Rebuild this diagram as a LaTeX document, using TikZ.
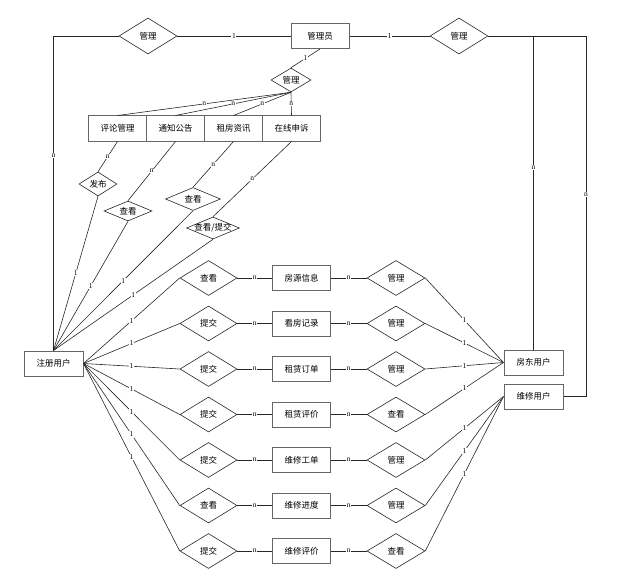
\documentclass[tikz,border=0pt]{standalone}
\usepackage{fontspec}
\newfontfamily\cjk{Noto Sans CJK SC}
\newfontfamily\lblfont{Liberation Serif}
\usetikzlibrary{shapes.geometric}
\begin{document}
\begin{tikzpicture}[x=1pt,y=-1pt,
  ent/.style={draw=black!60, line width=1pt, rectangle, minimum width=58pt, minimum height=25pt, inner sep=0pt, font=\cjk\fontsize{8.5}{10}\selectfont},
  rel/.style={draw=black!85, line width=0.6pt, diamond, inner sep=0pt},
  reltext/.style={font=\cjk\fontsize{8.5}{10}\selectfont, inner sep=0pt},
  conn/.style={draw=black!85, line width=0.6pt},
  lb/.style={fill=white, inner sep=0.6pt, font=\lblfont\fontsize{7.5}{7.5}\selectfont}
]
\useasboundingbox (0,0) rectangle (626,583);

% top
\node[rel, minimum width=58pt, minimum height=36pt, label={[reltext]center:管理}] (m1) at (148,36) {};
\node[ent] (adm) at (320,36) {管理员};
\node[rel, minimum width=58pt, minimum height=36pt, label={[reltext]center:管理}] (m2) at (459,36) {};
\node[rel, minimum width=40pt, minimum height=24pt, label={[reltext]center:管理}] (m3) at (291,80) {};

% second tier entities
\node[ent] (pl) at (117.5,128.5) {评论管理};
\node[ent] (tz) at (175.5,128.5) {通知公告};
\node[ent] (zx) at (233.5,128.5) {租房资讯};
\node[ent] (ss) at (291.5,128.5) {在线申诉};

% small relations
\node[rel, minimum width=38pt, minimum height=24pt, label={[reltext]center:发布}] (fb) at (98,184) {};
\node[rel, minimum width=48pt, minimum height=20pt, label={[reltext]center:查看}] (ck1) at (128,211) {};
\node[rel, minimum width=55pt, minimum height=23pt, label={[reltext]center:查看}] (ck2) at (193,199) {};
\node[rel, minimum width=53pt, minimum height=22pt, label={[reltext]center:查看/提交}] (ckt) at (213,228) {};

% users
\node[ent, minimum width=59pt] (user) at (53.5,363.5) {注册用户};
\node[ent, minimum width=59pt] (fd) at (533.5,362.5) {房东用户};
\node[ent, minimum width=59pt] (wx) at (533.5,396.5) {维修用户};
\coordinate (wc) at (586,396.5);

% top connectors
\draw[conn] (m1.west) -| node[lb,pos=0.69]{n} (user.north);
\draw[conn] (m1.east) -- node[lb]{1} (adm.west);
\draw[conn] (adm.east) -- node[lb]{1} (m2.west);
\draw[conn] (m2.east) -| node[lb,pos=0.71]{n} (fd.north);
\draw[conn] (m2.east) -| node[lb,pos=0.72]{n} (wc) -- (wx.east);
\draw[conn] (adm.south) -- node[lb]{1} (m3.north);
\foreach \e in {pl,tz,zx,ss}{
  \draw[conn] (m3.south) -- node[lb]{n} (\e.north);
}
\draw[conn] (pl.south) -- node[lb]{n} (fb.north);
\draw[conn] (tz.south) -- node[lb]{n} (ck1.north);
\draw[conn] (zx.south) -- node[lb]{n} (ck2.north);
\draw[conn] (ss.south) -- node[lb]{n} (ckt.north);
\foreach \d in {fb,ck1,ck2,ckt}{
  \draw[conn] (\d.south) -- node[lb]{1} (user.north);
}

% rows
\foreach \i/\y/\a/\e/\b/\t in {1/278/查看/房源信息/管理/fd, 2/323.5/提交/看房记录/管理/fd, 3/369/提交/租赁订单/管理/fd, 4/414.5/提交/租赁评价/查看/fd, 5/460/提交/维修工单/管理/wx, 6/505.5/查看/维修进度/管理/wx, 7/551/提交/维修评价/查看/wx}{
  \node[rel, minimum width=57pt, minimum height=35pt, label={[reltext]center:\a}] (la\i) at (208.5,\y) {};
  \node[ent] (en\i) at (301.5,\y) {\e};
  \node[rel, minimum width=58pt, minimum height=35pt, label={[reltext]center:\b}] (ra\i) at (396,\y) {};
  \draw[conn] (user.east) -- node[lb]{1} (la\i.west);
  \draw[conn] (la\i.east) -- node[lb]{n} (en\i.west);
  \draw[conn] (en\i.east) -- node[lb]{n} (ra\i.west);
  \draw[conn] (ra\i.east) -- node[lb]{1} (\t.west);
}
\end{tikzpicture}
\end{document}
